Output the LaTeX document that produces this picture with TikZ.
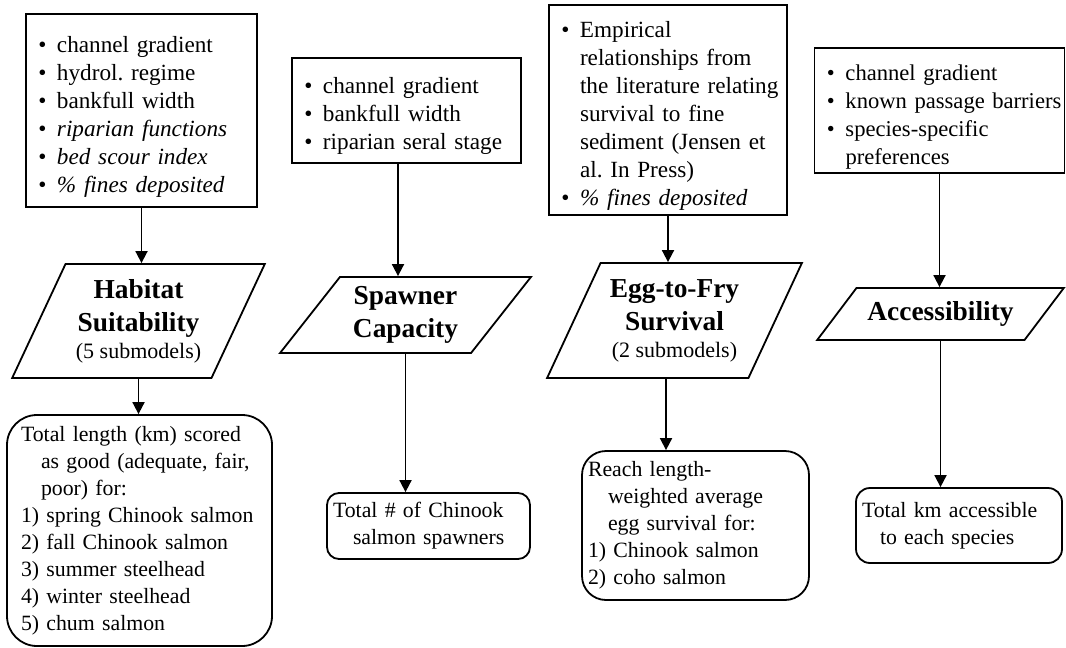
\documentclass[tikz,border=0pt]{standalone}
\usepackage{fontspec}
\setmainfont{Liberation Serif}
\usetikzlibrary{shapes.geometric,arrows.meta,calc}
\tikzstyle{Input} = [draw, shape = rectangle, line width=0.9pt, align=left, inner xsep=3pt, inner ysep=2pt, font=\fontsize{11.6}{14}\selectfont]
\tikzstyle{Model} = [draw, trapezium, trapezium stretches=true, line width=0.9pt, align=center, inner sep=1pt, font=\fontsize{13.7}{16.5}\selectfont\bfseries]
\tikzstyle{Result} = [draw, shape = rectangle, line width=0.9pt, align=left, inner xsep=3pt, font=\fontsize{10.9}{13.5}\selectfont]
\tikzstyle{Arrow} = [-{Triangle[length=6pt,width=6pt]}, line width=0.9pt]
\newcommand{\bul}{\par\hangindent=12.5pt\hangafter=1\noindent\makebox[12.5pt][l]{\hspace{3.2pt}\textbullet}}
\newcommand{\subm}[1]{{\fontsize{11}{13}\selectfont\mdseries #1}}

\begin{document}
\frenchspacing
\begin{tikzpicture}[x=0.5pt, y=0.5pt]
        \useasboundingbox (0,0) rectangle (1066,-648);

        %%%%% Top Line %%%%%%

        \draw (141.5,-110.5) node[Input, text width=109.5pt, minimum height=96.5pt] (In1) {\bul channel gradient\bul hydrol. regime\bul bankfull width\bul \textit{riparian functions}\bul \textit{bed scour index}\bul \textit{\% fines deposited}\par};
        \draw node[Input, text width=108.5pt, minimum height=52.5pt] at ($(In1)+(265,0)$) (In2) {\bul channel gradient\bul bankfull width\bul riparian seral stage\par};
        \draw node[Input, text width=113pt, minimum height=105pt] at ($(In2)+(261.5,0.5)$) (In3) {\bul Empirical\newline relationships from\newline the literature relating\newline survival to fine\newline sediment (Jensen et\newline al. In Press)\bul \textit{\% fines deposited}\par};
        \draw node[Input, font=\fontsize{11.3}{14}\selectfont, text width=119pt, minimum height=62.5pt] at ($(In3)+(271.5,-0.5)$) (In4) {\bul channel gradient\bul \mbox{known passage barriers}\bul species-specific\newline preferences\par};

        %%%%% Second Line %%%%%

        \draw node[Model, trapezium left angle=61.7, trapezium right angle=118.3, minimum width=126.5pt, minimum height=57pt] at ($(In1)+(-3,-210.5)$) (M1) {Habitat\\ Suitability\\[-3pt] \subm{(5 submodels)}};
        \draw node[Model, trapezium left angle=50.8, trapezium right angle=129.2, minimum width=125.5pt, minimum height=38pt] at ($(In2)+(-1,-204.5)$) (M2) {Spawner\\ Capacity};
        \draw node[Model, trapezium left angle=60.9, trapezium right angle=119.1, minimum width=127.5pt, minimum height=57.5pt] at ($(In3)+(6.5,-210.5)$) (M3) {Egg-to-Fry\\ Survival\\[-3pt] \subm{(2 submodels)}};
        \draw node[Model, trapezium left angle=39.5, trapezium right angle=140.5, minimum width=123.5pt, minimum height=26pt] at ($(In4)+(1,-203.5)$) (M4) {Accessibility};

        %%%%% Bottom Line %%%%%

        \draw node[Result, rounded corners=15pt, inner xsep=7pt, text width=118.5pt, minimum height=115.5pt] at ($(M1)+(1,-209.5)$) (Out1) {Total length (km) scored\\ \hspace*{10pt}as good (adequate, fair,\\ \hspace*{10pt}poor) for:\\ 1) spring Chinook salmon\\ 2) fall Chinook salmon\\ 3) summer steelhead\\ 4) winter steelhead\\ 5) chum salmon};
        \draw node[Result, rounded corners=6pt, text width=95.5pt, minimum height=33pt] at ($(M2)+(23,-211)$) (Out2) {Total \# of Chinook\\ \hspace*{10pt}salmon spawners};
        \draw node[Result, rounded corners=12pt, text width=107.5pt, minimum height=74.5pt] at ($(M3)+(21,-205)$) (Out3) {Reach length-\\ \hspace*{10pt}weighted average\\ \hspace*{10pt}egg survival for:\\ 1) Chinook salmon\\ 2) coho salmon};
        \draw node[Result, rounded corners=7pt, text width=97pt, minimum height=37.5pt] at ($(M4)+(18.5,-211.5)$) (Out4) {Total km accessible\\ \hspace*{9pt}to each species};

        %%%%% Connecting Arrows %%%%%

        \coordinate (a2) at ($(In2.south)+(-8.5,0)$);
        \coordinate (b3) at ($(M3.south)+(-8.5,0)$);

        \draw [Arrow] (In1.south) -- (In1.south |- M1.north);
        \draw [Arrow] (M1.south) -- (M1.south |- Out1.north);
        \draw [Arrow] (a2) -- (a2 |- M2.north);
        \draw [Arrow] (M2.south) -- (M2.south |- Out2.north);
        \draw [Arrow] (In3.south) -- (In3.south |- M3.north);
        \draw [Arrow] (b3) -- (b3 |- Out3.north);
        \draw [Arrow] (In4.south) -- (In4.south |- M4.north);
        \draw [Arrow] (M4.south) -- (M4.south |- Out4.north);

\end{tikzpicture}
\end{document}
